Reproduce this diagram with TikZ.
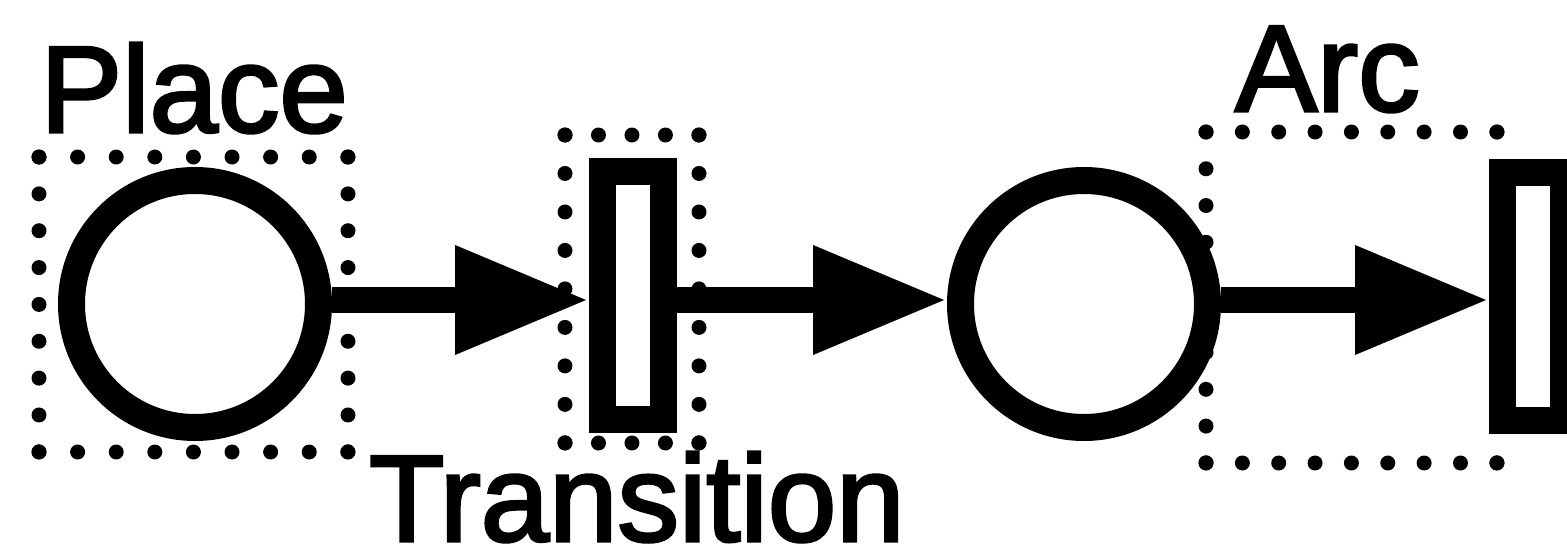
\documentclass[tikz,border=0pt]{standalone}
\usepackage{fontspec}
\newfontfamily\lblfont{Liberation Sans}[FakeBold=2.5]
\usetikzlibrary{arrows.meta}
\tikzset{
  place/.style={circle, draw=black, fill=white, line width=27pt, minimum size=247pt, inner sep=0pt},
  transbox/.style={rectangle, draw=black, fill=white, line width=27pt, minimum width=61pt, minimum height=248pt, inner sep=0pt},
  arcline/.style={line width=26pt, -{Triangle[length=134pt,width=102pt]}},
  dotline/.style={line width=15pt, line cap=round, draw=black},
  lbl/.style={font=\lblfont\fontsize{123}{123}\selectfont, inner sep=0pt, anchor=base west},
}
\newcommand\dotrect[6]{%
  \pgfmathsetmacro\dsx{abs(#3-#1)/#5-0.02}%
  \pgfmathsetmacro\dsy{abs(#4-#2)/#6-0.02}%
  \draw[dotline,dash pattern=on 0pt off \dsx pt] (#1,#2) -- (#3,#2);
  \draw[dotline,dash pattern=on 0pt off \dsx pt] (#1,#4) -- (#3,#4);
  \draw[dotline,dash pattern=on 0pt off \dsy pt] (#1,#2) -- (#1,#4);
  \draw[dotline,dash pattern=on 0pt off \dsy pt] (#3,#2) -- (#3,#4);
}
\begin{document}
\begin{tikzpicture}[x=1pt,y=-1pt]
\useasboundingbox (0,0) rectangle (1567,551);
\clip (0,0) rectangle (1567,551);
\fill[white] (0,0) rectangle (1567,551);
% dotted annotation boxes
\dotrect{39}{157}{348}{452}{8}{8}
\dotrect{565}{135}{699}{443}{4}{8}
\dotrect{1206}{132}{1497}{463}{8}{9}
% net elements
\coordinate (axis) at (0,300);
\node[place] (place1) at (195,304) {};
\node[transbox] (trans1) at (633,295.5) {};
\node[place] (place2) at (1084,304) {};
\node[transbox] (trans2) at (1533,296.5) {};
% arcs
\draw[arcline] (place1.east |- axis) -- (trans1.west |- axis);
\draw[arcline] (trans1.east |- axis) -- (place2.west |- axis);
\draw[arcline] (place2.east |- axis) -- (trans2.west |- axis);
% labels
\node[lbl] (placelbl) at (40,132) {Place};
\node[lbl] (translbl) at (369,541) {Transition};
\node[lbl] (arclbl) at (1235,111) {Arc};
\end{tikzpicture}
\end{document}
